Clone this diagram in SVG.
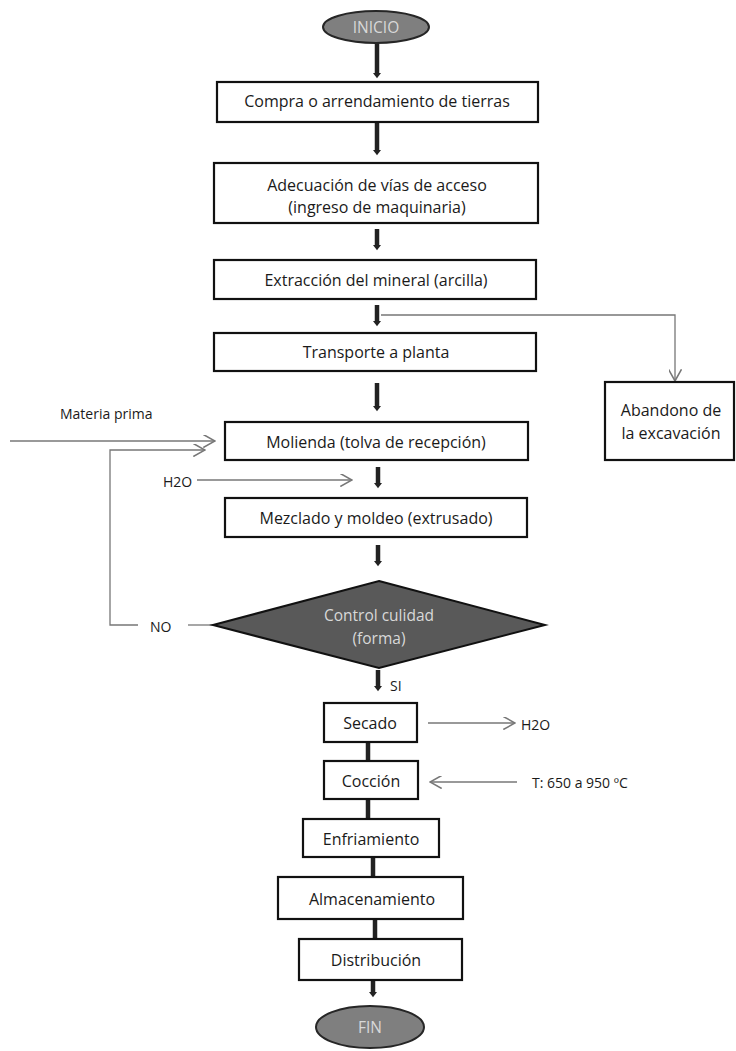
<svg xmlns="http://www.w3.org/2000/svg" width="736" height="1051" viewBox="0 0 736 1051">
<style>
.box{fill:#fff;stroke:#111;stroke-width:2.2}
.t{font-family:"Open Sans","Noto Sans",sans-serif;font-size:16px;fill:#1a1a1a;text-anchor:middle;dominant-baseline:central}
.s{font-family:"Open Sans","Noto Sans",sans-serif;font-size:14px;fill:#1a1a1a;dominant-baseline:central}
.term{fill:#7f7f7f;stroke:#262626;stroke-width:2}
.tl{font-family:"Open Sans","Noto Sans",sans-serif;font-size:15.5px;fill:#d8d8d8;text-anchor:middle;dominant-baseline:central}
.thick{stroke:#222;stroke-width:4.5;fill:none}
.thin{stroke:#777;stroke-width:1.3;fill:none}
</style>
<defs>
<marker id="hd" markerUnits="userSpaceOnUse" markerWidth="12" markerHeight="8" refX="0" refY="6" orient="auto" viewBox="0 0 8 12">
<path d="M0,0 L8,6 L0,12 z" fill="#222"/>
</marker>
<marker id="op" markerUnits="userSpaceOnUse" markerWidth="13" markerHeight="13" refX="9" refY="5" orient="auto" viewBox="0 0 10 10">
<path d="M0,0 L9,5 L0,10" fill="none" stroke="#777" stroke-width="1.2"/>
</marker>
</defs>

<g id="connectors">
<line class="thick" x1="377" y1="43" x2="377" y2="73" marker-end="url(#hd)"/>
<line class="thick" x1="377" y1="123" x2="377" y2="150" marker-end="url(#hd)"/>
<line class="thick" x1="377" y1="229" x2="377" y2="245" marker-end="url(#hd)"/>
<line class="thick" x1="377" y1="305" x2="377" y2="321" marker-end="url(#hd)"/>
<line class="thick" x1="377" y1="383" x2="377" y2="406" marker-end="url(#hd)"/>
<line class="thick" x1="378" y1="467" x2="378" y2="483" marker-end="url(#hd)"/>
<line class="thick" x1="378" y1="545" x2="378" y2="561" marker-end="url(#hd)"/>
<line class="thick" x1="378" y1="670" x2="378" y2="686" marker-end="url(#hd)"/>
<line class="thick" x1="368" y1="742" x2="368" y2="761"/>
<line class="thick" x1="368" y1="799" x2="368" y2="819"/>
<line class="thick" x1="373" y1="857" x2="373" y2="877"/>
<line class="thick" x1="375" y1="919" x2="375" y2="939"/>
<line class="thick" x1="373" y1="980" x2="373" y2="992" marker-end="url(#hd)"/>
<polyline class="thin" points="381,315 675,315 675,381" marker-end="url(#op)"/>
<line class="thin" x1="10" y1="441" x2="215" y2="441" marker-end="url(#op)"/>
<polyline class="thin" points="138,625 110,625 110,450 205,450" marker-end="url(#op)"/>
<line class="thin" x1="188" y1="625" x2="213" y2="625"/>
<line class="thin" x1="197" y1="480" x2="352" y2="480" marker-end="url(#op)"/>
<line class="thin" x1="428" y1="723" x2="515" y2="723" marker-end="url(#op)"/>
<line class="thin" x1="517" y1="782" x2="430" y2="782" marker-end="url(#op)"/>
</g>

<g id="inicio"><ellipse class="term" cx="376" cy="27" rx="53" ry="16"/><text class="tl" x="376" y="27" font-size="13">INICIO</text></g>
<g id="compra"><rect class="box" x="217" y="82" width="321" height="40"/><text class="t" x="377" y="101">Compra o arrendamiento de tierras</text></g>
<g id="adecuacion"><rect class="box" x="214" y="163" width="324" height="60"/><text class="t" x="377" y="185">Adecuación de vías de acceso</text><text class="t" x="377" y="207">(ingreso de maquinaria)</text></g>
<g id="extraccion"><rect class="box" x="214" y="260" width="322" height="39"/><text class="t" x="376" y="280">Extracción del mineral (arcilla)</text></g>
<g id="transporte"><rect class="box" x="214" y="333" width="322" height="38"/><text class="t" x="376" y="352">Transporte a planta</text></g>
<g id="abandono"><rect class="box" x="605" y="382" width="129" height="78"/><text class="t" x="671" y="410">Abandono de</text><text class="t" x="671" y="433">la excavación</text></g>
<g id="materia"><text class="s" x="60" y="413">Materia prima</text></g>
<g id="molienda"><rect class="box" x="225" y="422" width="303" height="38"/><text class="t" x="376" y="442">Molienda (tolva de recepción)</text></g>
<g id="h2o-in"><text class="s" x="163" y="481" font-size="12">H2O</text></g>
<g id="mezclado"><rect class="box" x="225" y="498" width="302" height="39"/><text class="t" x="376" y="518">Mezclado y moldeo (extrusado)</text></g>
<g id="control"><polygon points="379,581 545,625 379,668 213,625" fill="#595959" stroke="#111" stroke-width="2"/><text class="tl" x="379" y="615">Control culidad</text><text class="tl" x="379" y="638">(forma)</text></g>
<g id="no"><text class="s" x="150" y="626" font-size="15">NO</text></g>
<g id="si"><text class="s" x="390" y="685">SI</text></g>
<g id="secado"><rect class="box" x="324" y="703" width="93" height="39"/><text class="t" x="370" y="723">Secado</text></g>
<g id="h2o-out"><text class="s" x="521" y="724" font-size="12">H2O</text></g>
<g id="coccion"><rect class="box" x="324" y="761" width="94" height="38"/><text class="t" x="371" y="781">Cocción</text></g>
<g id="temp"><text class="s" x="532" y="782" font-size="15">T: 650 a 950 ºC</text></g>
<g id="enfriamiento"><rect class="box" x="303" y="819" width="136" height="38"/><text class="t" x="371" y="839">Enfriamiento</text></g>
<g id="almacenamiento"><rect class="box" x="278" y="877" width="185" height="42"/><text class="t" x="372" y="899">Almacenamiento</text></g>
<g id="distribucion"><rect class="box" x="299" y="939" width="163" height="41"/><text class="t" x="376" y="960">Distribución</text></g>
<g id="fin"><ellipse class="term" cx="370" cy="1027" rx="54" ry="21"/><text class="tl" x="370" y="1027" font-size="14">FIN</text></g>
</svg>
